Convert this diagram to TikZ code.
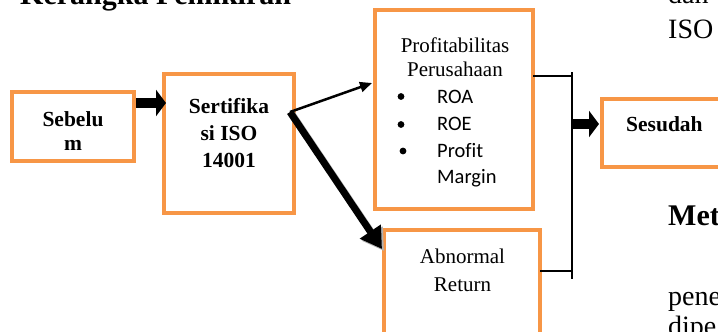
\documentclass[tikz,border=0pt]{standalone}
\usepackage{fontspec}
\setmainfont[Ligatures=NoCommon]{Liberation Serif}
\newfontfamily\calfont[Ligatures=NoCommon]{Carlito}
\usetikzlibrary{arrows.meta,calc}
\definecolor{boxorange}{HTML}{F79646}
\begin{document}
\begin{tikzpicture}[x=1pt,y=-1pt,
  obox/.style 2 args={rectangle,draw=boxorange,line width=4.8pt,fill=white,
    minimum width=#1,minimum height=#2,inner sep=0pt,outer sep=0pt},
  boldtxt/.style={inner sep=0pt,font=\fontsize{21.5}{24}\selectfont\bfseries},
  plaintxt/.style={inner sep=0pt,font=\fontsize{21}{24}\selectfont},
  caltxt/.style={inner sep=0pt,font=\calfont\fontsize{20.5}{24}\selectfont},
  pagetxt/.style={inner sep=0pt,font=\fontsize{28}{32}\selectfont},
  pagebold/.style={inner sep=0pt,font=\fontsize{30}{34}\selectfont\bfseries},
  blockarrow/.style={line width=10pt,-{Triangle[length=10pt,width=26pt]}},
  thinarrow/.style={line width=2.5pt,-{Triangle[length=12pt,width=10pt]}},
  thickarrow/.style={line width=7pt,-{Triangle[length=21pt,width=24pt]}},
  bracketline/.style={line width=1.8pt}]
\useasboundingbox (0,0) rectangle (718,332);
\clip (0,0) rectangle (718,332);

% page text
\node[pagebold,anchor=base west] (thead) at (20,4.5) {Kerangka Pemikiran};
\node[pagetxt,anchor=base west] (tdan) at (668,3.5) {dan};
\node[pagetxt,anchor=base west] (tiso) at (668,38) {ISO};
\node[pagebold,anchor=base west] (tmet) at (668,225) {Met};
\node[pagetxt,anchor=base west] (tpene) at (668,305) {pene};
\node[pagetxt,anchor=base west] (tdipe) at (668,335) {dipe};

% boxes
\node[obox={122pt}{69pt}] (seb) at (73,126.5) {};
\node[obox={130pt}{139pt}] (sert) at (229,143.5) {};
\node[obox={158pt}{199pt}] (prof) at (454,109.5) {};
\node[obox={156pt}{115pt}] (abn) at (462,287.5) {};
\node[obox={160pt}{68pt}] (ses) at (682,133) {};

% box texts
\node[boldtxt,anchor=base] (tseb1) at (73,126) {Sebelu};
\node[boldtxt,anchor=base] (tseb2) at (73,150) {m};
\node[boldtxt,anchor=base] (tsert1) at (229,113) {Sertifika};
\node[boldtxt,anchor=base] (tsert2) at (229,140) {si ISO};
\node[boldtxt,anchor=base] (tsert3) at (229,167) {14001};
\node[plaintxt,anchor=base] (tprof1) at (455,52) {Profitabilitas};
\node[plaintxt,anchor=base] (tprof2) at (455,76) {Perusahaan};
\node[caltxt,anchor=base west] (troa) at (437,103) {ROA};
\node[caltxt,anchor=base west] (troe) at (437,130) {ROE};
\node[caltxt,anchor=base west] (tpm1) at (437,157) {Profit};
\node[caltxt,anchor=base west] (tpm2) at (437,183) {Margin};
\fill (401,96.5) circle (3.4pt);
\fill (401,124.5) circle (3.4pt);
\fill (403,151) circle (3.4pt);
\node[plaintxt,anchor=base] (tabn1) at (462.5,263) {Abnormal};
\node[plaintxt,anchor=base] (tabn2) at (462.5,291) {Return};
\node[boldtxt,anchor=base west] (tses) at (626,131) {Sesudah};

% connectors
\draw[blockarrow] ([xshift=2.2pt,yshift=23.5pt]seb.east) -- ([xshift=2pt,yshift=40.5pt]sert.west);

\coordinate (elbow) at (290,112);
\draw[thinarrow] (elbow) -- ([xshift=-3pt,yshift=26.5pt]prof.west);
\draw[thickarrow,draw=gray!60,fill=gray!60] ([xshift=2pt,yshift=-2pt]elbow) -- ([xshift=0pt,yshift=-21pt]abn.north west);
\draw[thickarrow] (elbow) -- ([xshift=-2pt,yshift=-19pt]abn.north west);

\coordinate (btop) at (572,72);
\coordinate (bbot) at (572,279);
\draw[bracketline] (btop) -- (bbot);
\draw[bracketline] ([yshift=33.5pt]prof.east) -- ([yshift=33.5pt]prof.east -| btop);
\draw[bracketline] ([yshift=16.5pt]abn.east) -- ([yshift=16.5pt]abn.east -| btop);
\draw[blockarrow] ([yshift=9pt]ses.west -| btop) -- ([xshift=-3pt,yshift=9pt]ses.west);
\end{tikzpicture}
\end{document}
